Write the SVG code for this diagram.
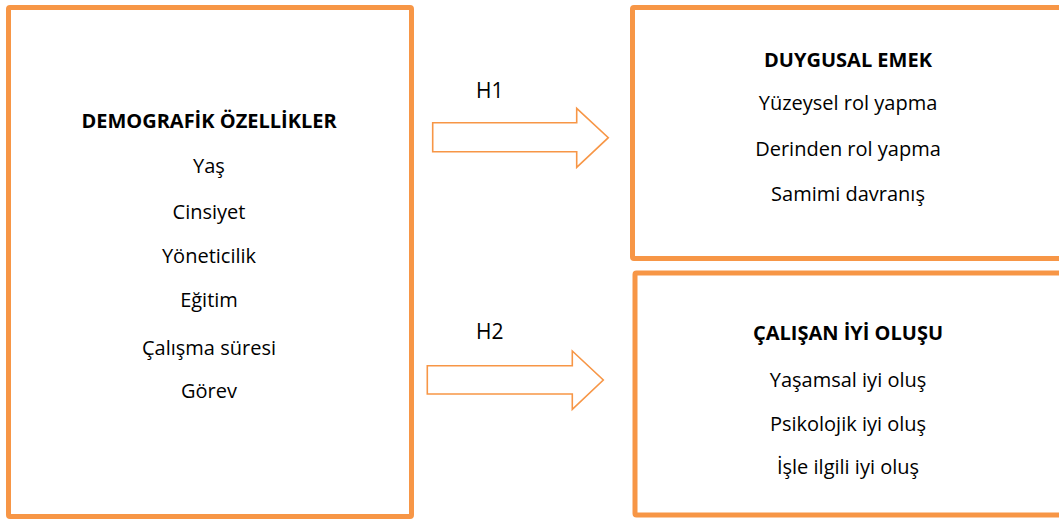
<svg xmlns="http://www.w3.org/2000/svg" width="1059" height="520" viewBox="0 0 1059 520">
<style>
.box{fill:#fff;stroke:#F79646;stroke-width:5}
.arr{fill:#fff;stroke:#F79646;stroke-width:1.6;stroke-linejoin:miter}
text{font-family:"Open Sans","Liberation Sans",sans-serif;font-size:20px;fill:#000;text-anchor:middle}
.b{font-weight:bold}
.lbl{text-anchor:start;font-size:21px}
</style>
<rect width="1059" height="520" fill="#fff"/>
<g id="demografik">
<rect class="box" x="8.5" y="7.5" width="403" height="509" rx="1.5"/>
<text class="b" x="209" y="128">DEMOGRAFİK ÖZELLİKLER</text>
<text x="209" y="173">Yaş</text>
<text x="209" y="219">Cinsiyet</text>
<text x="209" y="263">Yöneticilik</text>
<text x="209" y="307">Eğitim</text>
<text x="209" y="355">Çalışma süresi</text>
<text x="209" y="398">Görev</text>
</g>
<g id="duygusal">
<rect class="box" x="632.5" y="7.5" width="440" height="251" rx="1.5"/>
<text class="b" x="848" y="67">DUYGUSAL EMEK</text>
<text x="848" y="110">Yüzeysel rol yapma</text>
<text x="848" y="156">Derinden rol yapma</text>
<text x="848" y="201">Samimi davranış</text>
</g>
<g id="calisan">
<rect class="box" x="635" y="273" width="440" height="242" rx="1.5"/>
<text class="b" x="848" y="340">ÇALIŞAN İYİ OLUŞU</text>
<text x="848" y="387">Yaşamsal iyi oluş</text>
<text x="848" y="431">Psikolojik iyi oluş</text>
<text x="848" y="474">İşle ilgili iyi oluş</text>
</g>
<g id="connectors">
<polygon class="arr" points="432.7,122.7 576.7,122.7 576.7,108.3 608.3,137.7 576.7,167.3 576.7,151.7 432.7,151.7"/>
<text class="lbl" x="476" y="98">H1</text>
<polygon class="arr" points="427.3,365.7 572.3,365.7 572.3,351 603.3,380 572.3,409.3 572.3,394 427.3,394"/>
<text class="lbl" x="476" y="339">H2</text>
</g>
</svg>
